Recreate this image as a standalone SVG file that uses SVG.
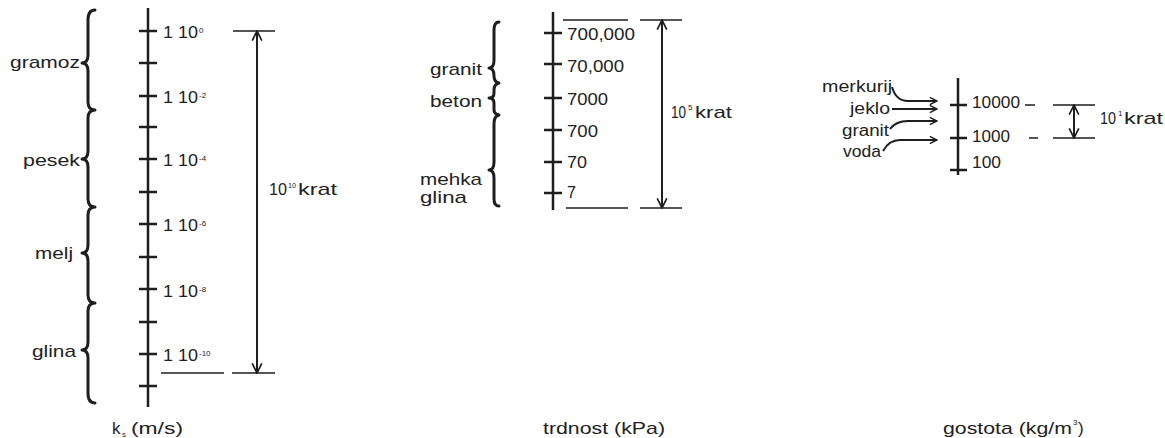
<svg xmlns="http://www.w3.org/2000/svg" width="1165" height="438" viewBox="0 0 1165 438">
<style>
text{font-family:"Liberation Sans",Arial,sans-serif;fill:#222;font-size:17px}
.sup{font-size:8px}
.sm{font-size:16px}
.ax{stroke:#1e1e1e;stroke-width:2.5;fill:none}
.ref{stroke:#1e1e1e;stroke-width:1.5;fill:none}
.arr{stroke:#1e1e1e;stroke-width:2;fill:none}
.br{stroke:#1e1e1e;stroke-width:3;fill:none;stroke-linejoin:round;stroke-linecap:round}
</style>
<defs>
<marker id="ah" viewBox="0 0 10 10" refX="9" refY="5" markerWidth="6" markerHeight="6" orient="auto-start-reverse" markerUnits="strokeWidth">
<path d="M1,1 L9,5 L1,9" fill="none" stroke="#1e1e1e" stroke-width="1.4"/>
</marker>
<marker id="ahs" viewBox="0 0 10 10" refX="9" refY="5" markerWidth="4.5" markerHeight="4.5" orient="auto" markerUnits="strokeWidth">
<path d="M1,1 L9,5 L1,9" fill="none" stroke="#1e1e1e" stroke-width="1.6"/>
</marker>
</defs>
<rect width="1165" height="438" fill="#fff"/>

<!-- Left panel: hydraulic conductivity -->
<g id="ks-axis">
<path class="ax" d="M148 8 V407 M139 31 H157 M139 63 H157 M139 96 H157 M139 127 H157 M139 159 H157 M139 192 H157 M139 224 H157 M139 257 H157 M139 289 H157 M139 322 H157 M139 354 H157 M139 386 H157"/>
<text x="163" y="38" textLength="35" lengthAdjust="spacingAndGlyphs">1 10</text><text class="sup" x="199" y="33">0</text>
<text x="163" y="103" textLength="35" lengthAdjust="spacingAndGlyphs">1 10</text><text class="sup" x="199" y="98">-2</text>
<text x="163" y="166" textLength="35" lengthAdjust="spacingAndGlyphs">1 10</text><text class="sup" x="199" y="161">-4</text>
<text x="163" y="231" textLength="35" lengthAdjust="spacingAndGlyphs">1 10</text><text class="sup" x="199" y="226">-6</text>
<text x="163" y="297" textLength="35" lengthAdjust="spacingAndGlyphs">1 10</text><text class="sup" x="199" y="292">-8</text>
<text x="163" y="361" textLength="35" lengthAdjust="spacingAndGlyphs">1 10</text><text class="sup" x="199" y="356">-10</text>
<text x="112" y="434">k</text><text class="sup" x="122" y="437">s</text><text x="131" y="434" textLength="52" lengthAdjust="spacingAndGlyphs">(m/s)</text>
</g>
<g id="ks-soils">
<path class="br" d="M95 10 Q88 10 88 20 L88 55 Q88 63 82 63 Q88 63 88 71 L88 102 Q88 110 95 110 Q88 110 88 118 L88 151 Q88 159 82 159 Q88 159 88 167 L88 199 Q88 207 95 207 Q88 207 88 215 L88 245 Q88 253 82 253 Q88 253 88 261 L88 295 Q88 303 95 303 Q88 303 88 311 L88 342 Q88 350 82 350 Q88 350 88 358 L88 393 Q88 403 95 403"/>
<text x="10" y="68" textLength="70" lengthAdjust="spacingAndGlyphs">gramoz</text>
<text x="23" y="166" textLength="57" lengthAdjust="spacingAndGlyphs">pesek</text>
<text x="35" y="259" textLength="38" lengthAdjust="spacingAndGlyphs">melj</text>
<text x="32" y="357" textLength="44" lengthAdjust="spacingAndGlyphs">glina</text>
</g>
<g id="ks-range">
<path class="ref" d="M233 31 H275 M161 373 H224 M232 373 H275"/>
<text x="269" y="195" textLength="18" lengthAdjust="spacingAndGlyphs">10</text><text class="sup" x="288" y="188" textLength="8" lengthAdjust="spacingAndGlyphs">10</text>
<text x="298" y="195" textLength="39" lengthAdjust="spacingAndGlyphs">krat</text>
</g>

<!-- Middle panel: strength -->
<g id="trd-axis">
<path class="ax" d="M553 12 V210 M544 33 H562 M544 64 H562 M544 98 H562 M544 130 H562 M544 162 H562 M544 193 H562"/>
<text x="567" y="40" textLength="68" lengthAdjust="spacingAndGlyphs">700,000</text>
<text x="567" y="72" textLength="57" lengthAdjust="spacingAndGlyphs">70,000</text>
<text x="567" y="105" textLength="41" lengthAdjust="spacingAndGlyphs">7000</text>
<text x="567" y="137" textLength="31" lengthAdjust="spacingAndGlyphs">700</text>
<text x="567" y="168" textLength="20" lengthAdjust="spacingAndGlyphs">70</text>
<text x="567" y="198" textLength="9" lengthAdjust="spacingAndGlyphs">7</text>
<text x="543" y="434" textLength="122" lengthAdjust="spacingAndGlyphs">trdnost (kPa)</text>
</g>
<g id="trd-materials">
<path class="br" stroke-width="2.5" d="M499 22 Q494 22 494 30 L494 60 Q494 68 489 68 Q494 68 494 76 Q494 82 499 83 Q494 84 494 90 L494 93 Q494 98 489 98 Q494 98 494 103 L494 110 Q494 114 499 115 Q494 116 494 124 L494 162 Q494 170 489 170 Q494 170 494 178 L494 199 Q494 206 499 206"/>
<text x="430" y="75" textLength="52" lengthAdjust="spacingAndGlyphs">granit</text>
<text x="430" y="107" textLength="52" lengthAdjust="spacingAndGlyphs">beton</text>
<text x="420" y="185" textLength="62" lengthAdjust="spacingAndGlyphs">mehka</text>
<text x="420" y="203" textLength="47" lengthAdjust="spacingAndGlyphs">glina</text>
</g>
<g id="trd-range">
<path class="ref" d="M563 20 H628 M640 20 H682 M566 208 H628 M640 208 H682"/>
<text x="671" y="118" textLength="15" lengthAdjust="spacingAndGlyphs">10</text><text class="sup" x="688" y="110">5</text>
<text x="695" y="118" textLength="37" lengthAdjust="spacingAndGlyphs">krat</text>
</g>

<!-- Right panel: density -->
<g id="gos-axis">
<path class="ax" d="M958 78 V175 M950 105 H967 M950 138 H967 M950 170 H967"/>
<text class="sm" x="972" y="108" textLength="48" lengthAdjust="spacingAndGlyphs">10000</text>
<text class="sm" x="972" y="142" textLength="38" lengthAdjust="spacingAndGlyphs">1000</text>
<text class="sm" x="972" y="168" textLength="29" lengthAdjust="spacingAndGlyphs">100</text>
<text x="943" y="434" textLength="129" lengthAdjust="spacingAndGlyphs">gostota (kg/m</text><text class="sup" x="1073" y="425">3</text><text x="1078" y="434">)</text>
</g>
<g id="gos-materials">
<text class="sm" x="822" y="92" textLength="70" lengthAdjust="spacingAndGlyphs">merkurij</text>
<text class="sm" x="850" y="114" textLength="40" lengthAdjust="spacingAndGlyphs">jeklo</text>
<text class="sm" x="842" y="136" textLength="47" lengthAdjust="spacingAndGlyphs">granit</text>
<text class="sm" x="843" y="157" textLength="38" lengthAdjust="spacingAndGlyphs">voda</text>
</g>
<g id="gos-range">
<path class="ref" d="M1025 105 H1035 M1053 105 H1095 M1029 138 H1038 M1053 138 H1095"/>
<text x="1100" y="124" textLength="16" lengthAdjust="spacingAndGlyphs">10</text><text class="sup" x="1118" y="116">1</text>
<text x="1124" y="124" textLength="39" lengthAdjust="spacingAndGlyphs">krat</text>
</g>

<!-- Connectors -->
<g id="connectors">
<path class="arr" d="M257 373 V31" marker-start="url(#ah)" marker-end="url(#ah)"/>
<path class="arr" d="M662 208 V20" marker-start="url(#ah)" marker-end="url(#ah)"/>
<path class="arr" d="M1074 138 V105" marker-start="url(#ah)" marker-end="url(#ah)"/>
<path class="arr" d="M892 87 Q896 101 908 101 L937 101" marker-end="url(#ahs)"/>
<path class="arr" d="M892 109 L937 109" marker-end="url(#ahs)"/>
<path class="arr" d="M890 129 Q896 121 908 121 L937 121" marker-end="url(#ahs)"/>
<path class="arr" d="M883 151 Q889 140 900 140 L937 140" marker-end="url(#ahs)"/>
</g>
</svg>
